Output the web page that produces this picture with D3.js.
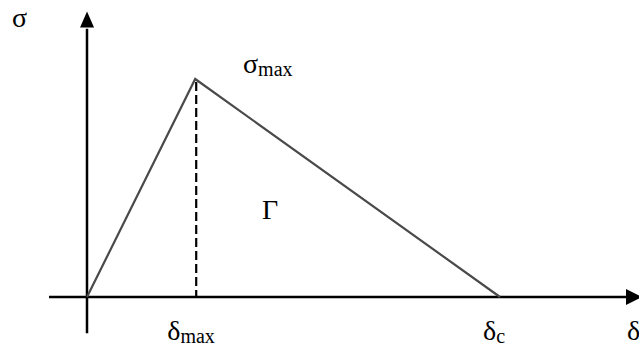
<!DOCTYPE html>
<html>
<head>
<meta charset="utf-8">
<script src="https://cdn.jsdelivr.net/npm/d3@7/dist/d3.min.js"></script>
<style>
  html, body { margin: 0; padding: 0; background: #fff; }
  svg { display: block; }
  .lbl { font-family: "Liberation Serif", "DejaVu Serif", serif; }
</style>
</head>
<body>
<svg id="chart" width="639" height="349"></svg>
<script>
// Bilinear traction-separation law: opening δ vs. cohesive stress σ
const separation = [0, 0.262, 1.0];   // δ = 0, δmax, δc (normalised by δc)
const traction   = [0, 1.0, 0];       // σ = 0, σmax, 0 (normalised by σmax)
const peakIndex  = 1;

// Labels on the axes and the curve
const xTickLabels = [{ base: "δ", sub: "max", at: separation[1], dx: -28 },
                     { base: "δ", sub: "c",   at: separation[2], dx: -17 }];
const axisLabels  = { x: "δ", y: "σ" };
const peakLabel   = { base: "σ", sub: "max" };
const areaLabel   = "Γ";

const svg = d3.select("#chart");

const x = d3.scaleLinear().domain([0, 1]).range([87, 500]);
const y = d3.scaleLinear().domain([0, 1]).range([297, 79]);

// Axes with arrow heads
const axisColor = "#000";
svg.append("line")
  .attr("x1", x(-0.092)).attr("x2", x(1.31))
  .attr("y1", y(0)).attr("y2", y(0))
  .attr("stroke", axisColor).attr("stroke-width", 2.5);
svg.append("line")
  .attr("x1", x(0)).attr("x2", x(0))
  .attr("y1", y(-0.166)).attr("y2", y(1.23))
  .attr("stroke", axisColor).attr("stroke-width", 2.5);

const xa = x(1.31), ya = y(0);
svg.append("path")
  .attr("d", `M${xa - 2},${ya - 8} L${xa + 14},${ya} L${xa - 2},${ya + 8} Z`)
  .attr("fill", axisColor);
const yx = x(0), yt = y(1.31);
svg.append("path")
  .attr("d", `M${yx - 7},${yt + 16} L${yx},${yt} L${yx + 7},${yt + 16} Z`)
  .attr("fill", axisColor);

// Softening curve
const pts = separation.map((d, i) => [d, traction[i]]);
svg.append("path")
  .datum(pts)
  .attr("d", d3.line().x(d => x(d[0])).y(d => y(d[1])))
  .attr("fill", "none")
  .attr("stroke", "#4a4a4a")
  .attr("stroke-width", 2.2);

// Dashed drop line from the peak
svg.append("line")
  .attr("x1", x(separation[peakIndex]) + 1).attr("x2", x(separation[peakIndex]) + 1)
  .attr("y1", y(traction[peakIndex]) + 3).attr("y2", y(0))
  .attr("stroke", "#000").attr("stroke-width", 2.2)
  .attr("stroke-dasharray", "9,4");

// Label helper: base symbol with subscript
function subLabel(px, py, base, sub) {
  const t = svg.append("text").attr("class", "lbl")
    .attr("x", px).attr("y", py)
    .attr("font-size", 28).attr("fill", "#000");
  t.append("tspan").text(base);
  if (sub) t.append("tspan").attr("font-size", 20).attr("dy", 3).text(sub);
  return t;
}

xTickLabels.forEach(d => subLabel(x(d.at) + d.dx, 340, d.base, d.sub));
subLabel(243, 73, peakLabel.base, peakLabel.sub);
subLabel(12, 27, axisLabels.y);
subLabel(627, 340, axisLabels.x);
svg.append("text").attr("class", "lbl").attr("x", 262).attr("y", 219)
  .attr("font-size", 28).attr("fill", "#000")
  .text(areaLabel);
</script>
</body>
</html>
